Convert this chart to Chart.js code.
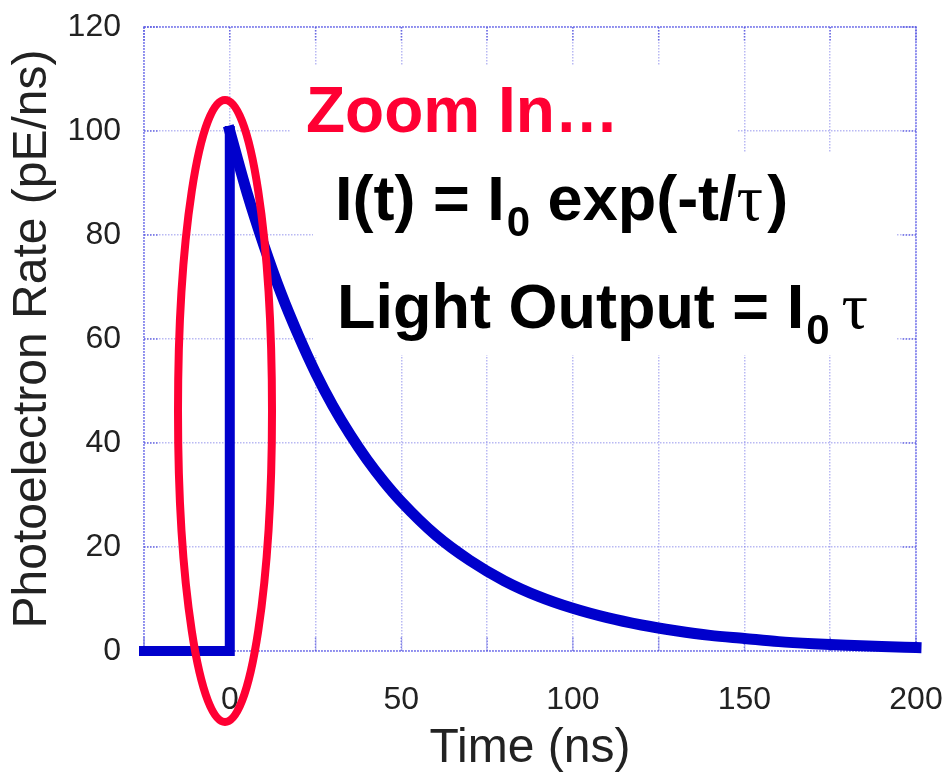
<!DOCTYPE html>
<html>
<head>
<meta charset="utf-8">
<script src="https://cdn.jsdelivr.net/npm/chart.js@4.4.1/dist/chart.umd.min.js"></script>
<style>
html,body{margin:0;padding:0;background:#fff;}
#wrap{width:946px;height:781px;position:relative;}
</style>
</head>
<body>
<div id="wrap"><canvas id="c" width="946" height="781"></canvas></div>
<script>
// ---- data ----
const stepTimes = [-25, 0, 0];
const stepRates = [0, 0, 100];
const decayTimes = [0, 5, 10, 15, 20, 25, 30, 35, 40, 45, 50, 60, 70, 80, 90, 100, 110, 120, 130, 140, 150, 160, 170, 180, 190, 200];
const decayRates = [100, 88.2, 77.9, 68.7, 60.7, 53.5, 47.2, 41.7, 36.8, 32.5, 28.7, 22.3, 17.4, 13.5, 10.5, 8.2, 6.4, 5, 3.9, 3, 2.4, 1.8, 1.4, 1.1, 0.85, 0.65];
const xLabelled = [0, 50, 100, 150, 200];
const xTitle = 'Time (ns)';
const yTitle = 'Photoelectron Rate (pE/ns)';
const noteTitle = 'Zoom In\u2026';
const eq1 = ['I(t) = I', '0', ' exp(-t/', '\u03C4', ')'];
const eq2 = ['Light Output = I', '0', '\u03C4'];

const SANS = "'Liberation Sans', Arial, Helvetica, sans-serif";
const SERIF = "'Liberation Serif', 'Times New Roman', serif";
const LINE_BLUE = '#0000CC';
const GRID = 'rgba(115,115,232,0.5)';
const RED = '#FF0033';

const overlay = {
  id: 'overlay',
  beforeDatasetsDraw(chart) {
    const {ctx, chartArea: a, scales: {x, y}} = chart;
    ctx.save();
    // frame
    ctx.strokeStyle = 'rgba(120,120,235,0.7)';
    ctx.lineWidth = 2;
    ctx.setLineDash([2, 1]);
    ctx.strokeRect(a.left, a.top, a.right - a.left, a.bottom - a.top);
    // inner tick marks
    ctx.strokeStyle = 'rgba(80,80,220,0.75)';
    ctx.lineWidth = 1.5;
    ctx.setLineDash([1.5, 1.5]);
    const L = 15;
    ctx.beginPath();
    x.ticks.forEach(t => {
      const px = x.getPixelForValue(t.value);
      ctx.moveTo(px, a.top); ctx.lineTo(px, a.top + L);
      ctx.moveTo(px, a.bottom); ctx.lineTo(px, a.bottom - L);
    });
    y.ticks.forEach(t => {
      const py = y.getPixelForValue(t.value);
      ctx.moveTo(a.left, py); ctx.lineTo(a.left + L, py);
      ctx.moveTo(a.right, py); ctx.lineTo(a.right - L, py);
    });
    ctx.stroke();
    ctx.restore();
  },
  afterDatasetsDraw(chart) {
    const {ctx} = chart;
    ctx.save();
    // white text boxes (cover grid and curve as in the slide)
    ctx.fillStyle = '#ffffff';
    ctx.fillRect(290, 66, 447, 88);
    ctx.fillRect(313, 153, 584, 202);

    // "Zoom In..."
    ctx.fillStyle = RED;
    ctx.textBaseline = 'alphabetic';
    ctx.textAlign = 'left';
    ctx.font = 'bold 64px ' + SANS;
    ctx.fillText(noteTitle, 306, 132);

    // equations
    ctx.fillStyle = '#000000';
    const big = 'bold 63px ' + SANS;
    const sub = 'bold 42px ' + SANS;
    const tau = '66px ' + SERIF;
    let cx = 335, base = 220;
    ctx.font = big; ctx.fillText(eq1[0], cx, base); cx += ctx.measureText(eq1[0]).width + 2;
    ctx.font = sub; ctx.fillText(eq1[1], cx, base + 16); cx += ctx.measureText(eq1[1]).width;
    ctx.font = big; ctx.fillText(eq1[2], cx, base); cx += ctx.measureText(eq1[2]).width;
    ctx.font = tau; ctx.fillText(eq1[3], cx, base); cx += ctx.measureText(eq1[3]).width + 4;
    ctx.font = big; ctx.fillText(eq1[4], cx, base);

    cx = 337; base = 328;
    ctx.font = big; ctx.fillText(eq2[0], cx, base); cx += ctx.measureText(eq2[0]).width + 2;
    ctx.font = sub; ctx.fillText(eq2[1], cx, base + 16); cx += ctx.measureText(eq2[1]).width + 12;
    ctx.font = tau; ctx.fillText(eq2[2], cx, base);

    // red ellipse around the rising edge
    ctx.strokeStyle = RED;
    ctx.lineWidth = 8;
    ctx.beginPath();
    ctx.ellipse(225, 411, 47, 311, 0, 0, Math.PI * 2);
    ctx.stroke();
    ctx.restore();
  }
};

const gridCommon = {color: GRID, lineWidth: 1.5, drawTicks: false};
const borderCommon = {display: false, dash: [1.5, 1.5]};

new Chart(document.getElementById('c'), {
  type: 'line',
  data: {
    datasets: [
      {
        data: stepTimes.map((t, i) => ({x: t, y: stepRates[i]})),
        borderColor: LINE_BLUE, borderWidth: 10, pointRadius: 0, tension: 0,
        borderJoinStyle: 'miter', borderCapStyle: 'square', clip: false
      },
      {
        data: decayTimes.map((t, i) => ({x: t, y: decayRates[i]})),
        borderColor: LINE_BLUE, borderWidth: 11, pointRadius: 0,
        cubicInterpolationMode: 'monotone',
        borderJoinStyle: 'round', borderCapStyle: 'square', clip: false
      }
    ]
  },
  options: {
    responsive: false,
    animation: false,
    devicePixelRatio: 1,
    layout: {padding: {left: 0, right: 30, top: 27, bottom: 0}},
    plugins: {legend: {display: false}, tooltip: {enabled: false}},
    scales: {
      x: {
        type: 'linear', min: -25, max: 200,
        afterFit(s) { s.height = 130; s.paddingLeft = 0; s.paddingRight = 0; },
        ticks: {
          stepSize: 25, autoSkip: false, maxRotation: 0,
          callback: v => xLabelled.includes(v) ? String(v) : '',
          font: {family: SANS, size: 32}, color: '#222', padding: 30
        },
        grid: gridCommon,
        border: borderCommon,
        title: {display: true, text: xTitle, font: {family: SANS, size: 48}, color: '#222', padding: {top: 0, bottom: 3}}
      },
      y: {
        min: 0, max: 120,
        afterFit(s) { s.width = 144; s.paddingTop = 0; s.paddingBottom = 0; },
        ticks: {stepSize: 20, font: {family: SANS, size: 32}, color: '#222', padding: 23},
        grid: gridCommon,
        border: borderCommon,
        title: {display: true, text: yTitle, font: {family: SANS, size: 48}, color: '#222', padding: {top: 4, bottom: 0}}
      }
    }
  },
  plugins: [overlay]
});
</script>
</body>
</html>
